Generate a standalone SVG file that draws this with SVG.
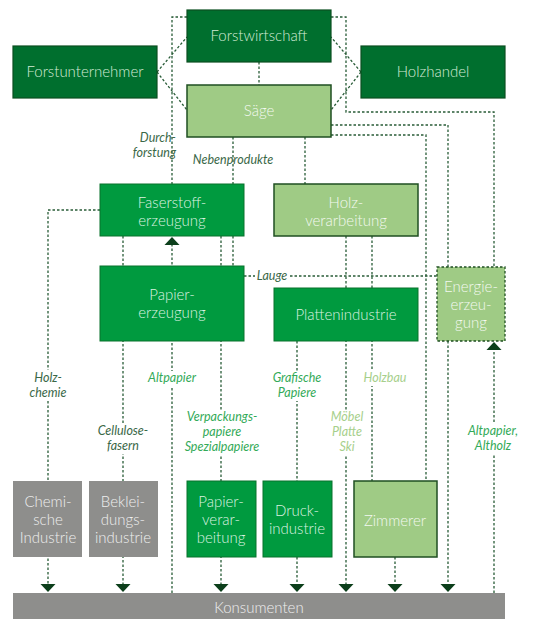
<svg xmlns="http://www.w3.org/2000/svg" width="535" height="619" viewBox="0 0 535 619">
<defs>
<style>
.dk{fill:#006f2e;stroke:#0a4f20;stroke-width:1.2}
.md{fill:#009a3f;stroke:#08732d;stroke-width:1}
.lt{fill:#9fcb85;stroke:#1f4f22;stroke-width:1.5}
.gr{fill:#8e8e8c}
.bt{font-family:Lato,"Open Sans",sans-serif;font-size:15px;font-weight:300;text-anchor:middle}
.tdk{fill:#d4ebd6}
.tmd{fill:#dcf2e0}
.tlt{fill:#f3f9f0}
.tgr{fill:#efefef}
.lb{font-family:Lato,"Open Sans",sans-serif;font-size:12.5px;font-style:italic;text-anchor:middle}
.l1{fill:#3a6848}
.l2{fill:#33aa58}
.l3{fill:#a6cf8b}
.cn{fill:none;stroke:#285c37;stroke-width:1.3;stroke-dasharray:2.5 2}
.ah{fill:#0c3f1b}
.ko{fill:#ffffff}
</style>
<path id="ad" d="M-7.5,-8 L7.5,-8 L0,0 Z"/>
<path id="au" d="M-7.5,8 L7.5,8 L0,0 Z"/>
</defs>
<g id="connectors">
<path class="cn" d="M157,72 L187,37 M157,72 L187,110"/>
<path class="cn" d="M361,72 L331,37 M361,72 L331,110"/>
<path class="cn" d="M259,62 L259,85"/>
<path class="cn" d="M187,17 L172,17 L172,184"/>
<path class="cn" d="M331,17 L346,17 L346,112 L494,112 L494,267"/>
<path class="cn" d="M331,125 L448,125 L448,585"/>
<path class="cn" d="M331,135 L426,135 L426,481"/>
<path class="cn" d="M233,137 L233,266"/>
<path class="cn" d="M305,137 L305,184"/>
<path class="cn" d="M100,210 L48,210 L48,585"/>
<path class="cn" d="M123,236 L123,585"/>
<path class="cn" d="M172,593 L172,243"/>
<path class="cn" d="M221,236 L221,585"/>
<path class="cn" d="M244,276 L255,276 M290,276 L437,276"/>
<path class="cn" d="M297,341 L297,585"/>
<path class="cn" d="M346,236 L346,585"/>
<path class="cn" d="M372,236 L372,481"/>
<path class="cn" d="M395,557 L395,585"/>
<path class="cn" d="M494,593 L494,348"/>
<use href="#ad" class="ah" x="48" y="592"/>
<use href="#ad" class="ah" x="123" y="592"/>
<use href="#ad" class="ah" x="221" y="592"/>
<use href="#ad" class="ah" x="297" y="592"/>
<use href="#ad" class="ah" x="346" y="592"/>
<use href="#ad" class="ah" x="395" y="592"/>
<use href="#ad" class="ah" x="448" y="592"/>
<use href="#au" class="ah" x="172" y="237"/>
<use href="#au" class="ah" x="494" y="342"/>
<rect class="ko" x="30" y="370" width="36" height="31"/>
<rect class="ko" x="145" y="371" width="54" height="15"/>
<rect class="ko" x="95" y="424" width="56" height="30"/>
<rect class="ko" x="181" y="410" width="82" height="45"/>
<rect class="ko" x="269" y="371" width="56" height="30"/>
<rect class="ko" x="360" y="371" width="50" height="15"/>
<rect class="ko" x="329" y="410" width="36" height="45"/>
<rect class="ko" x="465" y="424" width="56" height="30"/>
<text class="lb l1" x="272" y="280">Lauge</text>
<text class="lb l1" style="text-anchor:end"><tspan x="176" y="142">Durch-</tspan><tspan x="176" y="157">forstung</tspan></text>
<text class="lb l1" x="233" y="164">Nebenprodukte</text>
<text class="lb l1"><tspan x="48" y="382">Holz-</tspan><tspan x="48" y="397">chemie</tspan></text>
<text class="lb l1"><tspan x="123" y="435">Cellulose-</tspan><tspan x="123" y="450">fasern</tspan></text>
<text class="lb l2" x="172" y="382">Altpapier</text>
<text class="lb l2"><tspan x="222" y="421">Verpackungs-</tspan><tspan x="222" y="436">papiere</tspan><tspan x="222" y="451">Spezialpapiere</tspan></text>
<text class="lb l2"><tspan x="297" y="382">Grafische</tspan><tspan x="297" y="397">Papiere</tspan></text>
<text class="lb l3" x="385" y="382">Holzbau</text>
<text class="lb l3"><tspan x="347" y="421">Möbel</tspan><tspan x="347" y="436">Platte</tspan><tspan x="347" y="451">Ski</tspan></text>
<text class="lb l2"><tspan x="493" y="435">Altpapier,</tspan><tspan x="493" y="450">Altholz</tspan></text>
</g>
<g id="forstwirtschaft"><rect class="dk" x="187" y="10" width="144" height="52"/><text class="bt tdk" x="259" y="41">Forstwirtschaft</text></g>
<g id="forstunternehmer"><rect class="dk" x="13" y="46" width="144" height="52"/><text class="bt tdk" x="85" y="77">Forstunternehmer</text></g>
<g id="holzhandel"><rect class="dk" x="361" y="46" width="144" height="52"/><text class="bt tdk" x="433" y="77">Holzhandel</text></g>
<g id="saege"><rect class="lt" x="187" y="85" width="144" height="52"/><text class="bt tlt" x="259" y="116">Säge</text></g>
<g id="faserstoff"><rect class="md" x="100" y="184" width="144" height="52"/><text class="bt tmd"><tspan x="172" y="208">Faserstoff-</tspan><tspan x="172" y="226">erzeugung</tspan></text></g>
<g id="holzverarbeitung"><rect class="lt" x="274" y="184" width="144" height="52"/><text class="bt tlt"><tspan x="346" y="208">Holz-</tspan><tspan x="346" y="226">verarbeitung</tspan></text></g>
<g id="papiererzeugung"><rect class="md" x="100" y="266" width="144" height="75"/><text class="bt tmd"><tspan x="172" y="300">Papier-</tspan><tspan x="172" y="318">erzeugung</tspan></text></g>
<g id="plattenindustrie"><rect class="md" x="274" y="288" width="144" height="53"/><text class="bt tmd" x="346" y="320">Plattenindustrie</text></g>
<g id="energie"><rect x="437" y="267" width="68" height="74" fill="#9fcb85" stroke="#1f4f22" stroke-width="1.3" stroke-dasharray="2.5 2"/><text class="bt tlt"><tspan x="471" y="292">Energie-</tspan><tspan x="471" y="310">erzeu-</tspan><tspan x="471" y="328">gung</tspan></text></g>
<g id="chemische"><rect class="gr" x="13" y="481" width="69" height="76"/><text class="bt tgr"><tspan x="48" y="507">Chemi-</tspan><tspan x="48" y="525">sche</tspan><tspan x="48" y="543">Industrie</tspan></text></g>
<g id="bekleidung"><rect class="gr" x="89" y="481" width="69" height="76"/><text class="bt tgr"><tspan x="123" y="507">Beklei-</tspan><tspan x="123" y="525">dungs-</tspan><tspan x="123" y="543">industrie</tspan></text></g>
<g id="papierverarbeitung"><rect class="md" x="187" y="481" width="69" height="76" stroke="none"/><text class="bt tmd"><tspan x="221" y="507">Papier-</tspan><tspan x="221" y="525">verar-</tspan><tspan x="221" y="543">beitung</tspan></text></g>
<g id="druck"><rect class="md" x="263" y="481" width="69" height="76" stroke="none"/><text class="bt tmd"><tspan x="297" y="516">Druck-</tspan><tspan x="297" y="534">industrie</tspan></text></g>
<g id="zimmerer"><rect class="lt" x="354" y="481" width="83" height="76"/><text class="bt tlt" x="395" y="526">Zimmerer</text></g>
<g id="konsumenten"><rect class="gr" x="13" y="593" width="492" height="26"/><text class="bt tgr" x="259" y="613">Konsumenten</text></g>
</svg>
